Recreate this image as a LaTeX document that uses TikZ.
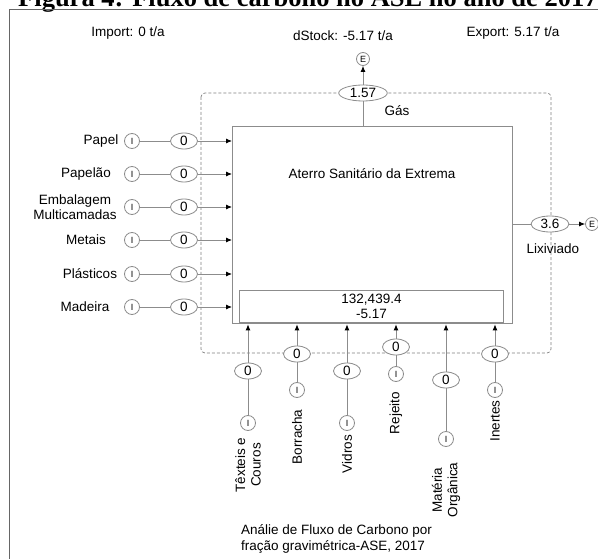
\documentclass[tikz,border=0pt]{standalone}
\usepackage{fontspec}
\setmainfont{Liberation Sans}
\newfontfamily\titlefont{Liberation Serif}
\usetikzlibrary{arrows.meta, positioning, shapes.geometric}

\begin{document}
\begin{tikzpicture}[
		x=1pt, y=-1pt,
		font=\fontsize{13.5}{15.5}\selectfont,
		conn/.style={draw=black!45, line width=0.8pt},
		arrow/.style={conn, -{Latex[black, length=6pt, width=5pt]}},
		flow/.style={ellipse, draw=black!45, fill=white, line width=0.8pt, minimum width=27pt, minimum height=16pt, inner xsep=4pt, inner ysep=0pt},
		src/.style={circle, draw=black!45, fill=white, line width=0.8pt, minimum size=15pt, inner sep=0pt, font=\fontsize{9}{10}\selectfont},
		snk/.style={circle, draw=black!45, fill=white, line width=0.8pt, minimum size=13pt, inner sep=0pt, font=\fontsize{9}{10}\selectfont},
		lbl/.style={align=center, inner sep=0pt},
		vlbl/.style={lbl, rotate=90}
		]
		
		\useasboundingbox (0,0) rectangle (598,559);
		
		% Title (cut by the page) and frame
		\node[anchor=base west, inner sep=0pt, font=\titlefont\bfseries\fontsize{26.5}{30}\selectfont] (title) at (18,7) {Figura 4: Fluxo de carbono no ASE no ano de 2017};
		\draw[draw=black!60, line width=0.9pt] (9,575) -- (9,9) -- (615,9);
		
		% Balance
		\node[lbl] (imp) at (128,33) {Import: 0 t/a};
		\node[lbl] (dst) at (343,36) {dStock: -5.17 t/a};
		\node[lbl] (exp) at (513,33) {Export: 5.17 t/a};
		
		% System boundary
		\draw[draw=black!50, dash pattern=on 3pt off 2pt, rounded corners=4pt, line width=0.7pt] (201,93) rectangle (551,353);
		
		% Process and stock
		\node[draw=black!45, line width=1.4pt, minimum width=280pt, minimum height=197pt, anchor=north west, inner sep=0pt] (ase) at (232,126) {};
		\node (asetxt) at (372,174) {Aterro Sanitário da Extrema};
		\node[draw=black!45, line width=1pt, minimum width=264pt, minimum height=32pt, anchor=south west, inner sep=0pt, align=center] (stock) at (239,323) {132,439.4\\-5.17};
		
		% Inputs, left
		\foreach \k/\yy/\lx/\txt in {1/141/101/Papel, 2/174/86/Papelão, 3/207/75/{Embalagem\\Multicamadas}, 4/240/86/Metais, 5/274/90/Plásticos, 6/307/85/Madeira} {
			\node[src] (inL\k) at (132,\yy) {I};
			\node[flow] (fL\k) at (184,\yy) {0};
			\node[lbl] (lbL\k) at (\lx,\yy) {\txt};
			\draw[conn] (inL\k) -- (fL\k);
			\draw[arrow] (fL\k) -- (ase.west |- fL\k);
		}
		
		% Inputs, bottom
		\foreach \k/\xx/\fy/\iy/\ly/\txt in {1/248/371/423/465/{Têxteis e\\Couros}, 2/297/354/390/437/Borracha, 3/347/371/423/454/Vidros, 4/396/347/374/413/Rejeito, 5/446/380/439/490/{Matéria\\Orgânica}, 6/495/354/390/421/Inertes} {
			\node[src] (inB\k) at (\xx,\iy) {I};
			\node[flow] (fB\k) at (\xx,\fy) {0};
			\node[vlbl] (lbB\k) at (\xx,\ly) {\txt};
			\draw[conn] (inB\k) -- (fB\k);
			\draw[arrow] (fB\k) -- (ase.south -| fB\k);
		}
		
		% Outputs
		\node[flow] (fGas) at (363,93) {1.57};
		\node[snk] (outT) at (363,59) {E};
		\draw[conn] (ase.north -| fGas) -- (fGas);
		\draw[arrow] (fGas) -- (outT);
		\node[lbl] (lbGas) at (397,111) {Gás};
		
		\node[flow] (fLix) at (550,224) {3.6};
		\node[snk] (outR) at (592,224) {E};
		\draw[conn] (ase.east |- fLix) -- (fLix);
		\draw[arrow] (fLix) -- (outR);
		\node[lbl] (lbLix) at (553,249) {Lixiviado};
		
		% Caption
		\node[lbl, align=left, anchor=west] (capt) at (241,539) {Análie de Fluxo de Carbono por\\fração gravimétrica-ASE, 2017};
	\end{tikzpicture}
\end{document}
